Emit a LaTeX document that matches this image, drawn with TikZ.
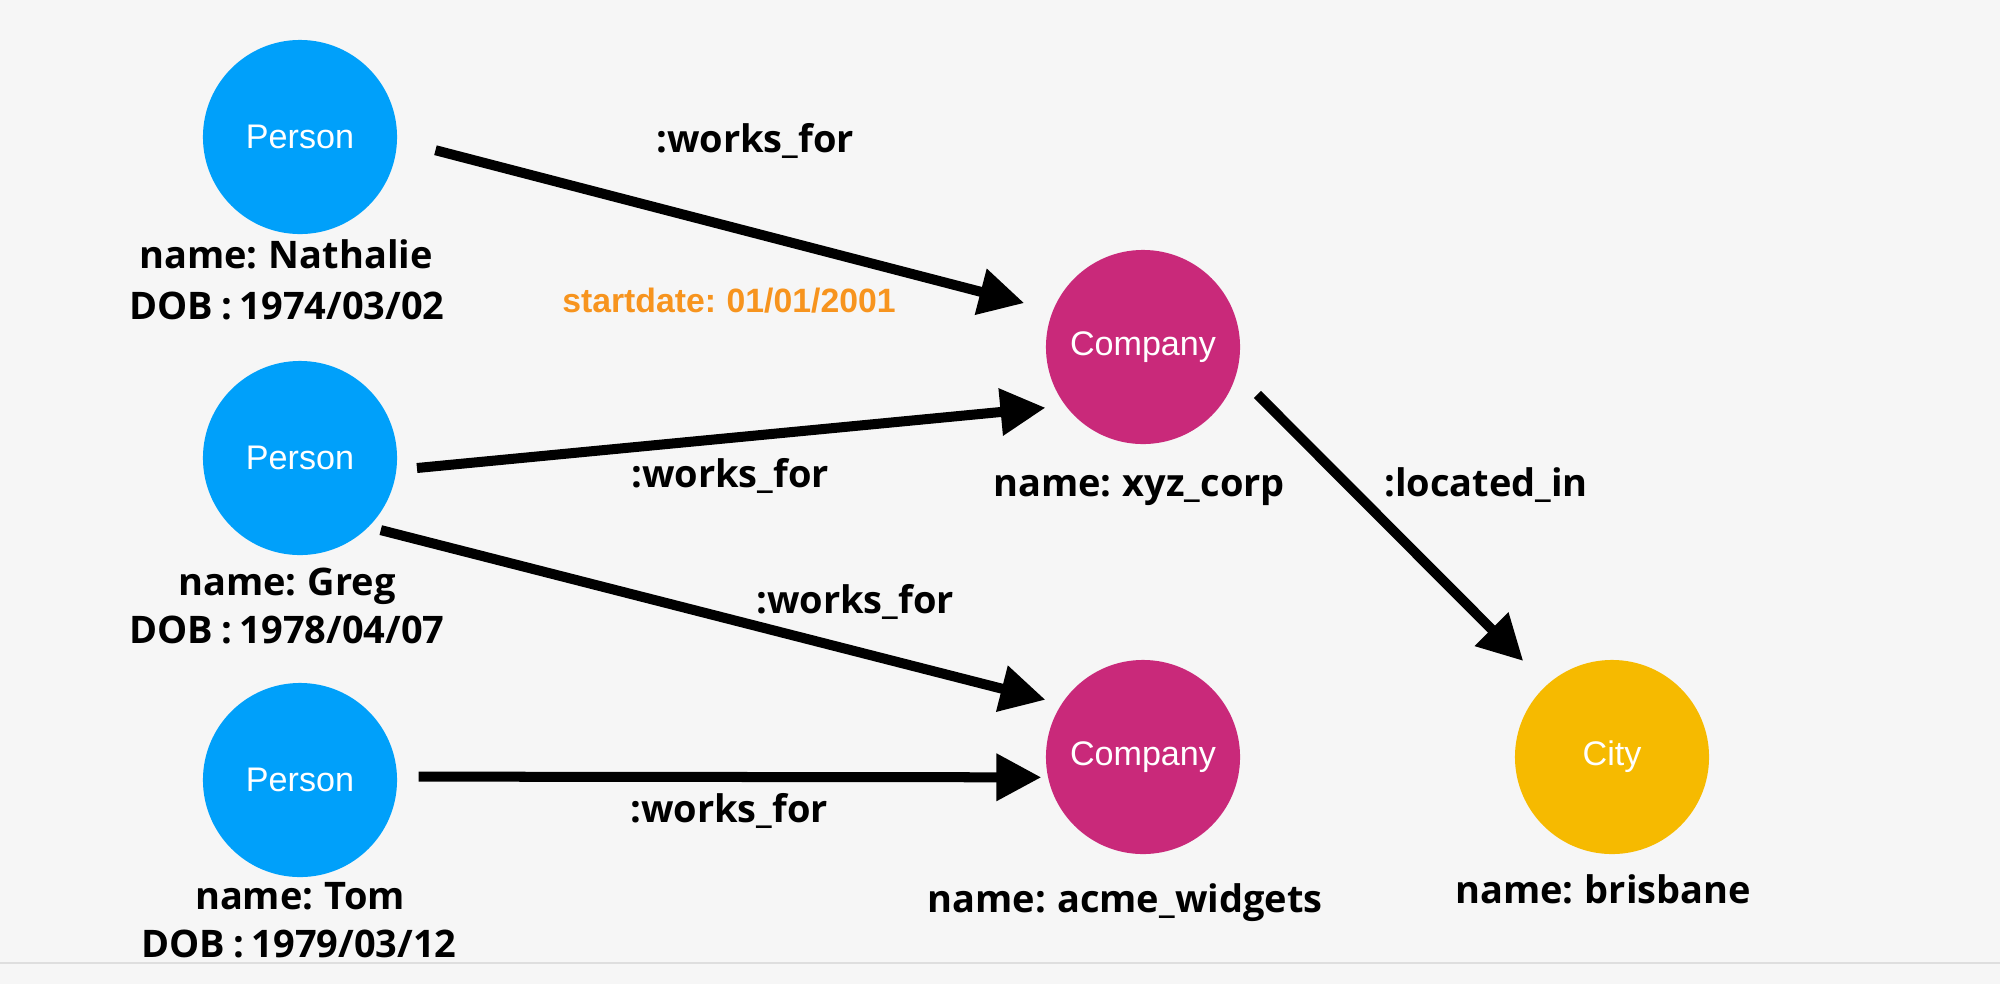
\documentclass[tikz,border=0pt]{standalone}
\usepackage{fontspec}
\newfontfamily\propfont{Open Sans}[WordSpace=0.8]
\newfontfamily\typefont{Liberation Sans}[WordSpace=0.8]
\usetikzlibrary{arrows.meta}

\definecolor{personblue}{RGB}{0,160,250}
\definecolor{companypink}{RGB}{201,41,122}
\definecolor{cityyellow}{RGB}{246,186,0}
\definecolor{dateorange}{RGB}{247,148,30}
\definecolor{bggray}{RGB}{246,246,246}
\definecolor{rulegray}{RGB}{222,222,222}

\tikzset{
  entity/.style={circle, minimum size=1.94cm, inner sep=0pt, text=white,
    font=\typefont\fontsize{9.7}{11}\selectfont},
  person/.style={entity, fill=personblue},
  company/.style={entity, fill=companypink},
  city/.style={entity, fill=cityyellow},
  prop/.style={anchor=base, inner sep=0pt,
    font=\propfont\bfseries\fontsize{10.8}{13}\selectfont},
  startdate/.style={anchor=base, inner sep=0pt, text=dateorange,
    font=\typefont\bfseries\fontsize{9.6}{11}\selectfont},
  rel/.style={line width=0.1cm, -{Triangle[length=0.45cm, width=0.45cm]}},
}

\begin{document}
\begin{tikzpicture}[x=0.01cm, y=-0.01cm]

    \fill[bggray] (0,0) rectangle (2000,984);
    \useasboundingbox (0,0) rectangle (2000,984);
    \draw[rulegray, line width=0.02cm] (0,963) -- (2000,963);

    % entities
    \node[person] (nathalie) at (300,137) {Person};
    \node[person] (greg) at (300,458) {Person};
    \node[person] (tom) at (300,780) {Person};
    \node[company] (xyz) at (1143,347) {Company};
    \node[company] (acme) at (1143,757) {Company};
    \node[city] (brisbane) at (1612,757) {City};

    % properties
    \node[prop] (nathalie name) at (286,268) {name: Nathalie};
    \node[prop] (nathalie dob) at (287,319) {DOB : 1974/03/02};
    \node[prop] (greg name) at (287,595) {name: Greg};
    \node[prop] (greg dob) at (287,643) {DOB : 1978/04/07};
    \node[prop] (tom name) at (300,909) {name: Tom};
    \node[prop] (tom dob) at (299,957) {DOB : 1979/03/12};
    \node[prop] (xyz name) at (1139,496) {name: xyz\_corp};
    \node[prop] (acme name) at (1125,912) {name: acme\_widgets};
    \node[prop] (brisbane name) at (1603,903) {name: brisbane};

    % relationships
    \draw[rel, shorten <=0.39cm, shorten >=0.29cm] (nathalie.-2) -- (xyz.158);
    \draw[rel, shorten <=0.2cm, shorten >=0.195cm] (greg.-7) -- (xyz.217);
    \draw[rel, shorten <=0.12cm, shorten >=0.16cm] (greg.-45) -- (acme.147);
    \draw[rel, shorten <=0.21cm, shorten >=0.06cm] (tom.2) -- (acme.192);
    \draw[rel, shorten <=0.29cm, shorten >=0.33cm] (xyz.-16) -- (brisbane.132);

    \node[prop] (wf nathalie) at (755,152) {:works\_for};
    \node[startdate] (since nathalie) at (729,312) {startdate: 01/01/2001};
    \node[prop] (wf greg xyz) at (730,487) {:works\_for};
    \node[prop] (wf greg acme) at (855,613) {:works\_for};
    \node[prop] (wf tom) at (729,822) {:works\_for};
    \node[prop] (loc xyz) at (1486,496) {:located\_in};

\end{tikzpicture}
\end{document}
